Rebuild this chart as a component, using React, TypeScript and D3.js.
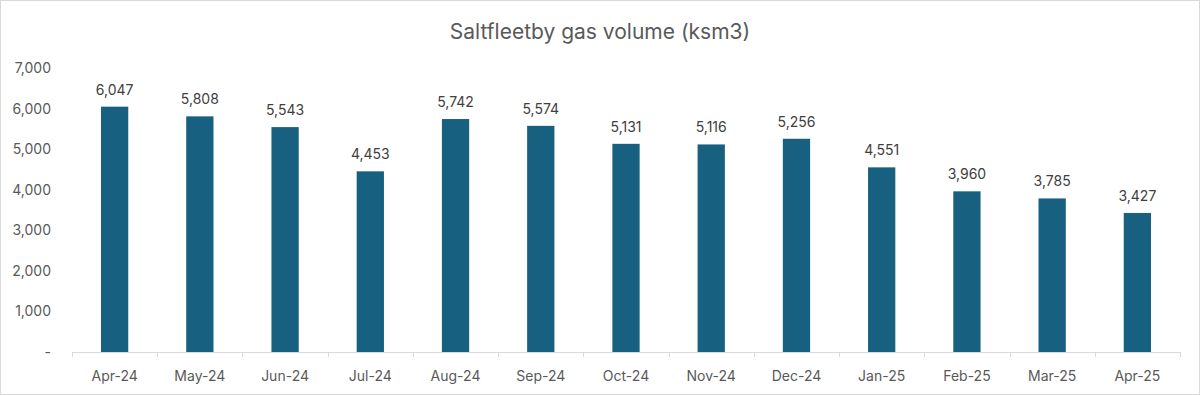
import React, { useEffect, useRef } from 'react';
import * as d3 from 'd3';

const months = ['Apr-24', 'May-24', 'Jun-24', 'Jul-24', 'Aug-24', 'Sep-24', 'Oct-24', 'Nov-24', 'Dec-24', 'Jan-25', 'Feb-25', 'Mar-25', 'Apr-25'];
const volumes = [6047, 5808, 5543, 4453, 5742, 5574, 5131, 5116, 5256, 4551, 3960, 3785, 3427];
const yTicks = [0, 1000, 2000, 3000, 4000, 5000, 6000, 7000];

const App: React.FC = () => {
  const svgRef = useRef<SVGSVGElement | null>(null);

  useEffect(() => {
    const svg = d3.select(svgRef.current);
    const width = 1200;
    const height = 395;
    const margin = { top: 68, right: 20, bottom: 43, left: 72 };
    const font = 'Inter, "Open Sans", sans-serif';

    svg.selectAll('*').remove();

    // outer border
    svg
      .append('rect')
      .attr('x', 0.5)
      .attr('y', 0.5)
      .attr('width', width - 1)
      .attr('height', height - 1)
      .attr('fill', 'white')
      .attr('stroke', '#d9d9d9');

    // title
    svg
      .append('text')
      .attr('x', width / 2)
      .attr('y', 39)
      .attr('text-anchor', 'middle')
      .attr('fill', '#595959')
      .style('font-family', font)
      .style('font-size', '21px')
      .text('Saltfleetby gas volume (ksm3)');

    const xScale = d3
      .scaleBand()
      .domain(months)
      .range([margin.left, width - margin.right])
      .paddingInner(0.68)
      .paddingOuter(0.34);

    const xOuter = d3.scaleBand().domain(months).range([margin.left, width - margin.right]);

    const yScale = d3
      .scaleLinear()
      .domain([0, 7000])
      .range([height - margin.bottom, margin.top]);

    // y axis labels (no line)
    const yAxis = svg
      .append('g')
      .attr('transform', `translate(${margin.left - 18},0)`)
      .call(
        d3
          .axisLeft(yScale)
          .tickValues(yTicks)
          .tickSize(0)
          .tickFormat((d) => ((d as number) === 0 ? '-' : d3.format(',')(d as number)))
      );
    yAxis.select('.domain').remove();
    yAxis
      .selectAll('text')
      .attr('fill', '#595959')
      .style('font-family', font)
      .style('font-size', '14px');

    // x axis line and ticks at category boundaries
    const baseY = yScale(0);
    const xg = svg.append('g');
    xg.append('line')
      .attr('x1', margin.left)
      .attr('x2', width - margin.right)
      .attr('y1', baseY + 0.5)
      .attr('y2', baseY + 0.5)
      .attr('stroke', '#d9d9d9');
    const boundaries = months.map((m) => xOuter(m)!).concat([width - margin.right]);
    xg.selectAll('.tick')
      .data(boundaries)
      .join('line')
      .attr('x1', (d) => Math.round(d) + 0.5)
      .attr('x2', (d) => Math.round(d) + 0.5)
      .attr('y1', baseY)
      .attr('y2', baseY + 5)
      .attr('stroke', '#d9d9d9');
    xg.selectAll('.xl')
      .data(months)
      .join('text')
      .attr('x', (d) => xOuter(d)! + xOuter.bandwidth() / 2)
      .attr('y', baseY + 29)
      .attr('text-anchor', 'middle')
      .attr('fill', '#595959')
      .style('font-family', font)
      .style('font-size', '14px')
      .text((d) => d);

    // bars
    svg
      .selectAll('.bar')
      .data(volumes)
      .join('rect')
      .attr('class', 'bar')
      .attr('x', (_, i) => xScale(months[i])!)
      .attr('y', (d) => yScale(d))
      .attr('width', xScale.bandwidth())
      .attr('height', (d) => baseY - yScale(d))
      .attr('fill', '#17607f');

    // data labels
    svg
      .selectAll('.lbl')
      .data(volumes)
      .join('text')
      .attr('x', (_, i) => xScale(months[i])! + xScale.bandwidth() / 2)
      .attr('y', (d) => yScale(d) - 12)
      .attr('text-anchor', 'middle')
      .attr('fill', '#404040')
      .style('font-family', font)
      .style('font-size', '14px')
      .text((d) => d3.format(',')(d));
  }, []);

  return (
    <svg
      ref={svgRef}
      width={1200}
      height={395}
      style={{ position: 'absolute', left: 0, top: 0 }}
    ></svg>
  );
};

export default App;
